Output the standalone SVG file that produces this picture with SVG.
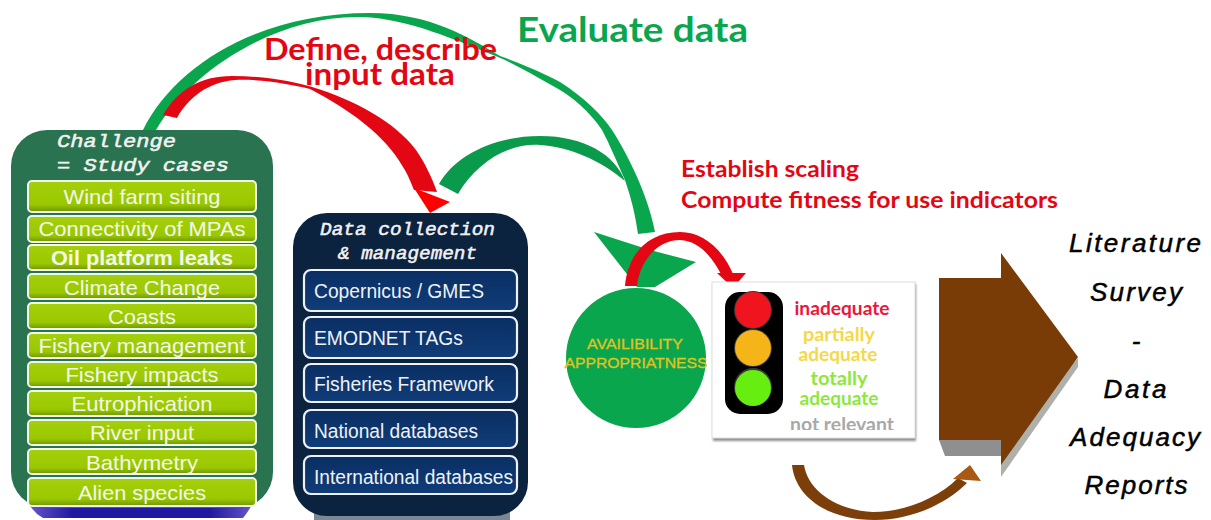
<svg xmlns="http://www.w3.org/2000/svg" width="1211" height="520" viewBox="0 0 1211 520">
<defs>
<linearGradient id="lime" x1="0" y1="0" x2="0" y2="1"><stop offset="0" stop-color="#a4cf0c"/><stop offset=".75" stop-color="#9ac800"/><stop offset="1" stop-color="#6f9400"/></linearGradient>
<linearGradient id="navy" x1="0" y1="0" x2="0" y2="1"><stop offset="0" stop-color="#0a2f63"/><stop offset="1" stop-color="#103c78"/></linearGradient>
<linearGradient id="band" x1="0" y1="0" x2="1" y2="0"><stop offset="0" stop-color="#6a5ad0"/><stop offset=".2" stop-color="#1f18a0"/><stop offset=".8" stop-color="#1f18a0"/><stop offset="1" stop-color="#6a5ad0"/></linearGradient>
<filter id="blur" x="-10%" y="-10%" width="120%" height="120%"><feGaussianBlur stdDeviation="0.6"/></filter>
<filter id="soft" x="-10%" y="-10%" width="120%" height="120%"><feGaussianBlur stdDeviation="1.2"/></filter>
<clipPath id="panel"><rect x="712" y="282" width="203" height="148"/></clipPath>
</defs>
<style>
text{font-family:"Liberation Sans",Arial,sans-serif}
.li{fill:url(#lime);stroke:#f2f6e6;stroke-width:2}
.lt{fill:#f4f8ea;font-size:21px;text-anchor:middle}
.db{fill:url(#navy);stroke:#eef2f6;stroke-width:2.2}
.dt{fill:#eef2f6;font-size:20px}
.mono{font-family:"Liberation Mono",monospace;font-style:italic;font-size:18px;fill:#f2f2f2;stroke:#f2f2f2;stroke-width:.5}
.cal{font-family:Lato,"Open Sans",sans-serif;font-weight:700}
.lit{font-style:italic;font-size:26px;fill:#000;text-anchor:middle;stroke:#000;stroke-width:.5}
.sc{font-family:Lato,"Open Sans",sans-serif;font-weight:700;font-size:18px;text-anchor:middle}
</style>
<rect width="1211" height="520" fill="#fff"/>
<g id="connectors">
<path id="evaluate-arc" fill="#0aa64e" d="M143 130C175 65 260 13 370 13C430 13 470 38 500 56C525 65 545 74 560 82C585 98 602 115 612 130C628 155 648 195 655 232L638 234C634 205 628 190 625 180C616 160 610 145 602 130C590 112 572 96 553 86C535 76 515 64 498 57C455 40 410 19 362 17C275 15 190 72 156 130Z"/>
<path id="feedback-arc" fill="#0a9a4c" d="M439 184C455 155 495 136 540 136C585 136 615 155 625 181C600 160 570 147 540 145C505 143 475 165 458 194Z"/>
<path id="evaluate-head" fill="#0aa64e" d="M594 232L650 250L696 262L655 287L637 287Z"/>
<path id="define-arc" fill="#e30613" d="M163 115C178 90 200 76 232 76C265 76 295 82 312 87C355 100 395 122 416 150C425 163 432 178 437 192L414 190C410 180 407 173 403 167C385 135 350 110 310 89C290 84 262 79 235 80C208 82 188 98 177 118Z"/>
<path id="define-head" fill="#f00" d="M414 188L450 202L430 213Z"/>
<path id="scale-arc" fill="#e30613" d="M625 286C628 252 650 232 680 232C702 232 722 248 733 274L721 274C710 254 698 241 680 240C658 240 640 260 637 286Z"/>
<path id="scale-head" fill="#e30613" d="M717 273L746 273L733 288Z"/>
<path id="report-arc" fill="#7d3f0a" d="M792 465L804 465C808 490 835 510 873 512C905 512 938 498 958 478L967 483C945 505 910 520 875 520C825 520 795 495 792 465Z"/>
<path id="report-head" fill="#a85a14" d="M953 479L970 465L981 481Z"/>
</g>
<g id="challenge">
<path fill="url(#band)" d="M27 495H255V500Q248 512 243 518H43Q32 512 27 500Z"/>
<rect x="11" y="130" width="262" height="378" rx="36" fill="#2a7350"/>
<text class="mono" x="57" y="147" textLength="119" lengthAdjust="spacingAndGlyphs">Challenge</text>
<text class="mono" x="57" y="171" textLength="172" lengthAdjust="spacingAndGlyphs">= Study cases</text>
</g>
<g id="case-wind"><rect class="li" x="28" y="181" width="228" height="31" rx="4"/><text class="lt" x="142" y="204" textLength="157" lengthAdjust="spacingAndGlyphs">Wind farm siting</text></g>
<g id="case-connectivity"><rect class="li" x="28" y="216" width="228" height="26" rx="4"/><text class="lt" x="142" y="236" textLength="207" lengthAdjust="spacingAndGlyphs">Connectivity of MPAs</text></g>
<g id="case-oil"><rect class="li" x="28" y="245" width="228" height="25" rx="4"/><text class="lt" x="142" y="265" font-weight="700" textLength="182" lengthAdjust="spacingAndGlyphs">Oil platform leaks</text></g>
<g id="case-climate"><rect class="li" x="28" y="274" width="228" height="25" rx="4"/><text class="lt" x="142" y="295" textLength="156" lengthAdjust="spacingAndGlyphs">Climate Change</text></g>
<g id="case-coasts"><rect class="li" x="28" y="303" width="228" height="26" rx="4"/><text class="lt" x="142" y="324" textLength="68" lengthAdjust="spacingAndGlyphs">Coasts</text></g>
<g id="case-management"><rect class="li" x="28" y="333" width="228" height="25" rx="4"/><text class="lt" x="142" y="353" textLength="207" lengthAdjust="spacingAndGlyphs">Fishery management</text></g>
<g id="case-impacts"><rect class="li" x="28" y="362" width="228" height="25" rx="4"/><text class="lt" x="142" y="382" textLength="153" lengthAdjust="spacingAndGlyphs">Fishery impacts</text></g>
<g id="case-eutrophication"><rect class="li" x="28" y="391" width="228" height="25" rx="4"/><text class="lt" x="142" y="411" textLength="141" lengthAdjust="spacingAndGlyphs">Eutrophication</text></g>
<g id="case-river"><rect class="li" x="28" y="420" width="228" height="25" rx="4"/><text class="lt" x="142" y="440" textLength="104" lengthAdjust="spacingAndGlyphs">River input</text></g>
<g id="case-bathymetry"><rect class="li" x="28" y="449" width="228" height="25" rx="4"/><text class="lt" x="142" y="470" textLength="112" lengthAdjust="spacingAndGlyphs">Bathymetry</text></g>
<g id="case-alien"><rect class="li" x="28" y="478" width="228" height="28" rx="4"/><text class="lt" x="142" y="500" textLength="128" lengthAdjust="spacingAndGlyphs">Alien species</text></g>
<g id="data-collection">
<rect x="314" y="505" width="196" height="15" fill="#7a8896"/>
<rect x="293" y="213" width="235" height="303" rx="34" fill="#0c2340"/>
<text class="mono" x="320" y="235" textLength="175" lengthAdjust="spacingAndGlyphs">Data collection</text>
<text class="mono" x="338" y="259" textLength="139" lengthAdjust="spacingAndGlyphs">&amp; management</text>
</g>
<g id="db-copernicus"><rect class="db" x="304" y="270" width="213" height="41" rx="7"/><text class="dt" x="314" y="298" textLength="170" lengthAdjust="spacingAndGlyphs">Copernicus / GMES</text></g>
<g id="db-emodnet"><rect class="db" x="304" y="317" width="213" height="41" rx="7"/><text class="dt" x="314" y="345" textLength="149" lengthAdjust="spacingAndGlyphs">EMODNET TAGs</text></g>
<g id="db-fisheries"><rect class="db" x="304" y="364" width="213" height="38" rx="7"/><text class="dt" x="314" y="391" textLength="180" lengthAdjust="spacingAndGlyphs">Fisheries Framework</text></g>
<g id="db-national"><rect class="db" x="304" y="410" width="213" height="38" rx="7"/><text class="dt" x="314" y="438" textLength="164" lengthAdjust="spacingAndGlyphs">National databases</text></g>
<g id="db-international"><rect class="db" x="304" y="456" width="213" height="38" rx="7"/><text class="dt" x="314" y="484" textLength="199" lengthAdjust="spacingAndGlyphs">International databases</text></g>
<g id="titles">
<text class="cal" x="264" y="60" font-size="30" fill="#e30613" textLength="233" lengthAdjust="spacingAndGlyphs">Define, describe</text>
<text class="cal" x="305" y="85" font-size="30" fill="#e30613" textLength="150" lengthAdjust="spacingAndGlyphs">input data</text>
<text class="cal" x="517" y="42" font-size="34" fill="#0aa64e" textLength="231" lengthAdjust="spacingAndGlyphs">Evaluate data</text>
<text class="cal" x="681" y="177" font-size="23" fill="#e30613" textLength="178" lengthAdjust="spacingAndGlyphs">Establish scaling</text>
<text class="cal" x="681" y="208" font-size="23" fill="#e30613" textLength="377" lengthAdjust="spacingAndGlyphs">Compute fitness for use indicators</text>
</g>
<g id="availability">
<circle cx="636" cy="358" r="70" fill="#0aa64e"/>
<text x="635" y="349" font-size="14" fill="#e2c21e" stroke="#e2c21e" stroke-width=".3" text-anchor="middle" textLength="96" lengthAdjust="spacingAndGlyphs">AVAILIBILITY</text>
<text x="636" y="368" font-size="14" fill="#e2c21e" stroke="#e2c21e" stroke-width=".3" text-anchor="middle" textLength="143" lengthAdjust="spacingAndGlyphs">APPROPRIATNESS</text>
</g>
<g id="traffic-light">
<rect x="713" y="284" width="203" height="157" fill="#8f8f8f" filter="url(#soft)"/>
<rect x="712" y="282" width="203" height="156" fill="#fff" stroke="#ddd"/>
<rect x="725" y="292" width="58" height="122" rx="15" fill="#050505" filter="url(#blur)"/>
<circle cx="753" cy="310" r="19" fill="#3a3a3a"/>
<circle cx="753" cy="310" r="18" fill="#f0141e"/>
<circle cx="753" cy="348" r="19" fill="#3a3a3a"/>
<circle cx="753" cy="348" r="18" fill="#f5b418"/>
<circle cx="753" cy="387" r="19" fill="#3a3a3a"/>
<circle cx="753" cy="388" r="18" fill="#66ee10"/>
<text class="sc" x="842" y="315" fill="#f0143c" textLength="95" lengthAdjust="spacingAndGlyphs">inadequate</text>
<text class="sc" x="839" y="341" fill="#f5d84a" textLength="72" lengthAdjust="spacingAndGlyphs">partially</text>
<text class="sc" x="838" y="361" fill="#f5d84a" textLength="79" lengthAdjust="spacingAndGlyphs">adequate</text>
<text class="sc" x="839" y="385" fill="#8ee83c" textLength="57" lengthAdjust="spacingAndGlyphs">totally</text>
<text class="sc" x="839" y="405" fill="#8ee83c" textLength="79" lengthAdjust="spacingAndGlyphs">adequate</text>
<g clip-path="url(#panel)"><text class="sc" x="842" y="431" fill="#a8a8a8" textLength="104" lengthAdjust="spacingAndGlyphs">not relevant</text></g>
</g>
<g id="report-arrow">
<path fill="#b0b0aa" d="M1001 440L1078 358L1078 367L1001 477Z"/>
<path fill="#8f8f8f" d="M939 440L1002 440L1002 456L945 456Z"/>
<path fill="#7a3c06" d="M939 278H1001V253L1078 357L1001 465V440H939Z"/>
</g>
<g id="reports">
<text class="lit" x="1135" y="252" textLength="132" lengthAdjust="spacing">Literature</text>
<text class="lit" x="1136" y="301" textLength="92" lengthAdjust="spacing">Survey</text>
<text class="lit" x="1136" y="350">-</text>
<text class="lit" x="1135" y="398" textLength="63" lengthAdjust="spacing">Data</text>
<text class="lit" x="1135" y="446" textLength="130" lengthAdjust="spacing">Adequacy</text>
<text class="lit" x="1136" y="494" textLength="103" lengthAdjust="spacing">Reports</text>
</g>
</svg>
